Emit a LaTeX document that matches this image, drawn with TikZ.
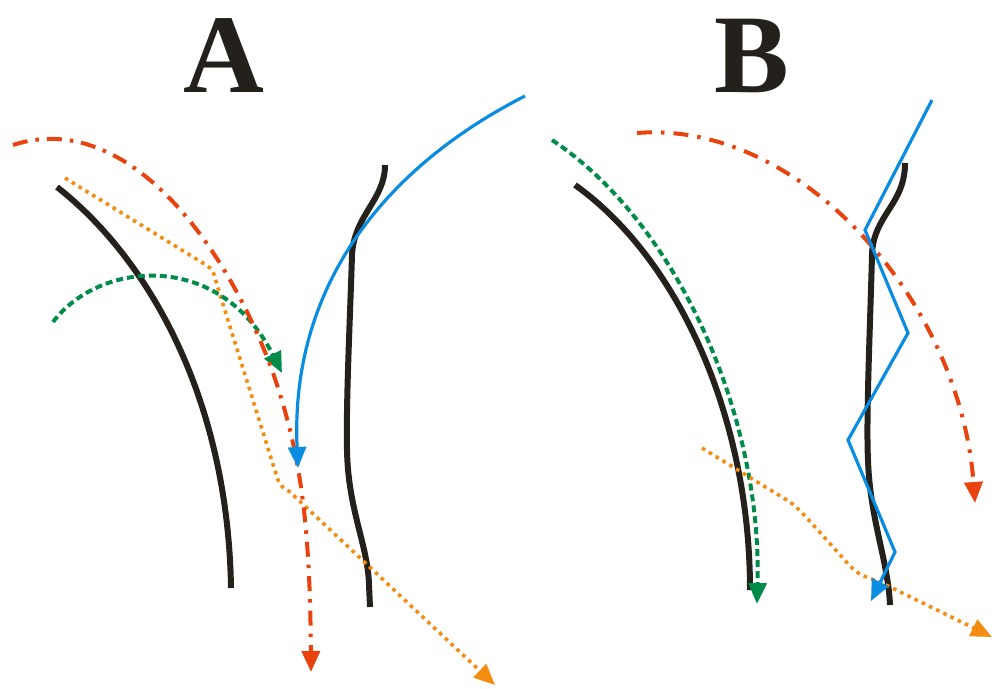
\documentclass[tikz,border=0pt]{standalone}
\usepackage{fontspec}
\setmainfont{Liberation Serif}
\usetikzlibrary{arrows.meta}
\definecolor{inkblack}{RGB}{36,32,28}
\definecolor{redline}{RGB}{232,66,14}
\definecolor{orangeline}{RGB}{243,140,16}
\definecolor{greenline}{RGB}{0,140,72}
\definecolor{blueline}{RGB}{10,140,225}
\tikzset{
  hair/.style={draw=inkblack,line width=6pt},
  tipstyle/.style={-{Triangle[length=21pt,width=18pt,fill=#1]}},
  redpath/.style={draw=redline,line width=4pt,dash pattern=on 15pt off 8pt on 3.5pt off 8pt,
    tipstyle=redline},
  orangepath/.style={draw=orangeline,line width=3.6pt,dash pattern=on 3.6pt off 4.4pt,
    tipstyle=orangeline},
  greenpath/.style={draw=greenline,line width=4pt,dash pattern=on 7pt off 4pt,
    tipstyle=greenline},
  bluepath/.style={draw=blueline,line width=3.2pt,tipstyle=blueline},
  panellabel/.style={font=\bfseries\fontsize{112}{112}\selectfont,text=inkblack,inner sep=0pt,anchor=base}
}
\begin{document}
\begin{tikzpicture}[x=1pt,y=-1pt]
\useasboundingbox (0,0) rectangle (992,688);
% labels
\node[panellabel] (labA) at (224,92) {A};
\node[panellabel] (labB) at (752,92) {B};

% ---------- Panel A ----------
\draw[hair] (57,187) .. controls (150,260) and (228,400) .. (231,588);
\draw[hair] (385,165) .. controls (385,200) and (354,215) .. (352,255)
   .. controls (350,320) and (346,400) .. (347,450)
   .. controls (348,510) and (368,545) .. (369,585) -- (370,607);

\coordinate (a1) at (65,178);
\coordinate (a2) at (495,685);
\draw[orangepath] (a1) -- (206,265) .. controls (213,270) .. (217,285)
   -- (276,474) .. controls (280,486) .. (290,492) -- (a2);

\coordinate (g1) at (53,322);
\coordinate (g2) at (282,373);
\draw[greenpath] (g1) .. controls (100,260) and (220,250) .. (g2);

\coordinate (r1) at (13,145);
\coordinate (r2) at (311,672);
\draw[redpath] (r1) .. controls (120,110) and (220,230) .. (272,370)
   .. controls (300,450) and (310,520) .. (r2);

\coordinate (b1) at (525,96);
\coordinate (b2) at (298,468);
\draw[bluepath] (b1) .. controls (380,170) and (290,290) .. (b2);

% ---------- Panel B ----------
\draw[hair] (575,185) .. controls (680,260) and (750,420) .. (750,590);
\draw[hair] (905,163) .. controls (905,205) and (873,215) .. (872,255)
   .. controls (870,330) and (866,420) .. (868,460)
   .. controls (870,520) and (888,560) .. (890,605);

\coordinate (gb1) at (552,140);
\coordinate (gb2) at (757,604);
\draw[greenpath] (gb1) .. controls (680,225) and (762,420) .. (gb2);

\coordinate (rb1) at (637,133);
\coordinate (rb2) at (975,503);
\draw[redpath,dash pattern=on 15pt off 9pt on 3.5pt off 9pt] (rb1) .. controls (800,120) and (960,300) .. (rb2);

\coordinate (ob1) at (702,448);
\coordinate (ob2) at (992,637);
\draw[orangepath] (ob1) -- (790,502) .. controls (800,510) .. (850,566)
   .. controls (860,575) .. (880,582) -- (ob2);

\coordinate (bb1) at (932,100);
\coordinate (bb2) at (871,601);
\draw[bluepath,line join=miter] (bb1) -- (865,230) -- (908,333) -- (848,440) -- (895,552) -- (bb2);
\end{tikzpicture}
\end{document}
